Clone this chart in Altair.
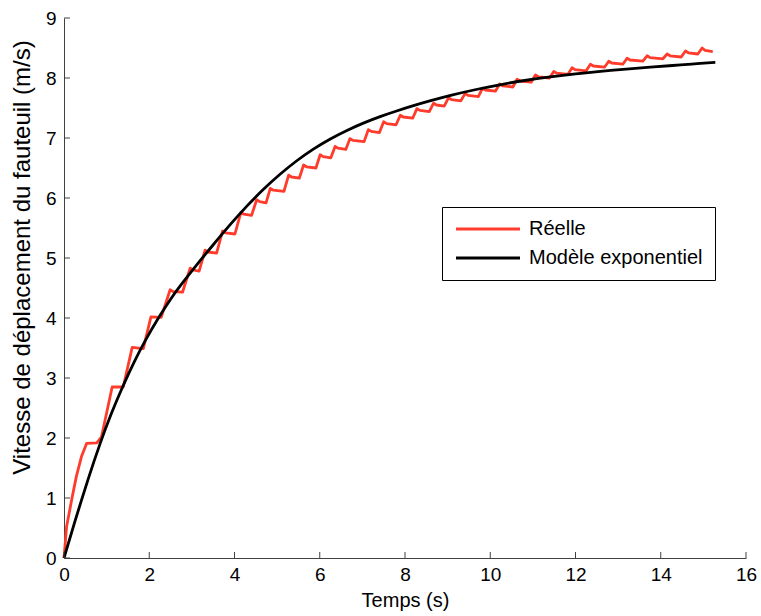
import altair as alt
import pandas as pd

# ---- data ----
red_t = [0.00, 0.06, 0.18, 0.29, 0.41, 0.53, 0.77, 0.88, 1.13, 1.39, 1.60, 1.86, 2.04, 2.28,
         2.49, 2.56, 2.78, 2.96, 3.03, 3.17, 3.31, 3.38, 3.58, 3.72, 3.79, 4.01, 4.15, 4.22, 4.40,
         4.52, 4.59, 4.74, 4.84, 4.91, 5.16, 5.27, 5.34, 5.52, 5.62, 5.69, 5.91, 6.01, 6.08, 6.26,
         6.36, 6.43, 6.61, 6.71, 6.78, 7.04, 7.14, 7.21, 7.40, 7.50, 7.57, 7.79, 7.89, 7.96, 8.18,
         8.28, 8.35, 8.57, 8.67, 8.74, 8.92, 9.02, 9.09, 9.31, 9.41, 9.48, 9.72, 9.82, 9.89, 10.12,
         10.22, 10.29, 10.53, 10.63, 10.70, 10.96, 11.06, 11.13, 11.39, 11.49, 11.56, 11.82, 11.92,
         11.99, 12.25, 12.35, 12.42, 12.68, 12.78, 12.85, 13.11, 13.21, 13.28, 13.58, 13.68, 13.75,
         14.05, 14.15, 14.22, 14.48, 14.58, 14.65, 14.87, 14.97, 15.04, 15.22]
red_v = [0.00, 0.52, 0.97, 1.36, 1.69, 1.91, 1.92, 2.02, 2.85, 2.85, 3.51, 3.49, 4.02, 4.01,
         4.47, 4.44, 4.43, 4.83, 4.80, 4.78, 5.13, 5.10, 5.08, 5.45, 5.42, 5.40, 5.76, 5.73, 5.71,
         5.97, 5.94, 5.92, 6.16, 6.13, 6.11, 6.38, 6.35, 6.33, 6.55, 6.52, 6.50, 6.72, 6.69, 6.67,
         6.86, 6.83, 6.81, 6.99, 6.96, 6.94, 7.14, 7.11, 7.09, 7.27, 7.24, 7.22, 7.38, 7.35, 7.33,
         7.49, 7.46, 7.44, 7.58, 7.55, 7.53, 7.67, 7.64, 7.62, 7.74, 7.71, 7.69, 7.83, 7.80, 7.78,
         7.90, 7.87, 7.85, 7.98, 7.95, 7.93, 8.05, 8.02, 8.00, 8.11, 8.08, 8.06, 8.17,
         8.14, 8.12, 8.23, 8.20, 8.18, 8.28, 8.25, 8.23, 8.33, 8.30, 8.28, 8.37, 8.34,
         8.32, 8.40, 8.37, 8.35, 8.45, 8.42, 8.40, 8.50, 8.46, 8.44]

black_t = [0.00, 0.25, 0.57, 0.85, 1.10, 1.39, 1.65, 1.90, 2.21, 2.53, 2.72, 3.08, 3.50, 3.90,
           4.29, 4.68, 5.07, 5.45, 5.85, 6.25, 6.64, 7.02, 7.42, 7.80, 8.20, 8.59, 9.06, 9.60,
           10.23, 10.80, 11.41, 12.00, 12.58, 13.20, 13.76, 14.30, 14.69, 15.28]
black_v = [0.00, 0.60, 1.33, 1.92, 2.40, 2.88, 3.28, 3.62, 4.00, 4.35, 4.53, 4.86, 5.22, 5.56,
           5.87, 6.15, 6.40, 6.62, 6.82, 6.99, 7.13, 7.25, 7.36, 7.45, 7.54, 7.62, 7.71, 7.80,
           7.89, 7.96, 8.02, 8.07, 8.11, 8.15, 8.18, 8.21, 8.23, 8.26]

x_ticks = [0, 2, 4, 6, 8, 10, 12, 14, 16]
y_ticks = [0, 1, 2, 3, 4, 5, 6, 7, 8, 9]
series = ["Réelle", "Modèle exponentiel"]
colors = ["#ff3b2b", "#000000"]

# ---- styling ----
W, H = 682, 540
FONT = "Liberation Sans"
AX = "#404040"
TICK_LEN = 6

red_df = pd.DataFrame({"t": red_t, "v": red_v, "s": series[0]})
blk_df = pd.DataFrame({"t": black_t, "v": black_v, "s": series[1]})
xt_df = pd.DataFrame({"t": x_ticks})
yt_df = pd.DataFrame({"v": y_ticks})

xscale = alt.Scale(domain=[0, 16], nice=False, zero=False)
yscale = alt.Scale(domain=[0, 9], nice=False, zero=False)
cscale = alt.Scale(domain=series, range=colors)

xaxis = alt.Axis(values=x_ticks, ticks=False, grid=False, domainColor=AX, domainWidth=1,
                 labelFont=FONT, labelFontSize=19, labelColor="black", labelPadding=7,
                 title="Temps (s)", titleFont=FONT, titleFontSize=20, titleFontWeight="normal",
                 titleColor="black", titlePadding=6, labelFlush=False)
yaxis = alt.Axis(values=y_ticks, ticks=False, grid=False, domainColor=AX, domainWidth=1,
                 labelFont=FONT, labelFontSize=19, labelColor="black", labelPadding=8,
                 title="Vitesse de déplacement du fauteuil (m/s)", titleFont=FONT,
                 titleFontSize=24, titleFontWeight="normal", titleColor="black",
                 titlePadding=11, titleY=239, labelFlush=False)

legend = alt.Legend(title=None, orient="none", legendX=378, legendY=189,
                    strokeColor="black", fillColor="white", padding=12, cornerRadius=0,
                    symbolType="M-1,0H7", symbolSize=256, symbolStrokeWidth=2.8,
                    labelFont=FONT, labelFontSize=20, labelColor="black",
                    labelOffset=55, rowPadding=9, labelLimit=400)

red_line = alt.Chart(red_df).mark_line(strokeWidth=2.8, strokeJoin="round").encode(
    x=alt.X("t:Q", scale=xscale, axis=xaxis),
    y=alt.Y("v:Q", scale=yscale, axis=yaxis),
    color=alt.Color("s:N", scale=cscale, legend=legend),
)
blk_line = alt.Chart(blk_df).mark_line(strokeWidth=2.8, strokeJoin="round",
                                       interpolate="basis").encode(
    x=alt.X("t:Q", scale=xscale, axis=xaxis),
    y=alt.Y("v:Q", scale=yscale, axis=yaxis),
    color=alt.Color("s:N", scale=cscale, legend=legend),
)
xticks = alt.Chart(xt_df).mark_rule(color=AX, strokeWidth=1).encode(
    x=alt.X("t:Q", scale=xscale, axis=xaxis),
    y=alt.value(H), y2=alt.value(H - TICK_LEN),
)
yticks = alt.Chart(yt_df).mark_rule(color=AX, strokeWidth=1).encode(
    y=alt.Y("v:Q", scale=yscale, axis=yaxis),
    x=alt.value(0), x2=alt.value(TICK_LEN),
)

chart = alt.layer(red_line, blk_line, xticks, yticks).properties(
    width=W, height=H,
    autosize=alt.AutoSizeParams(type="none"),
    padding={"left": 64, "top": 18, "right": 15, "bottom": 58},
    background="white",
).configure_view(stroke=None)

chart.save("out.html", embed_options={"renderer": "svg", "actions": False})
